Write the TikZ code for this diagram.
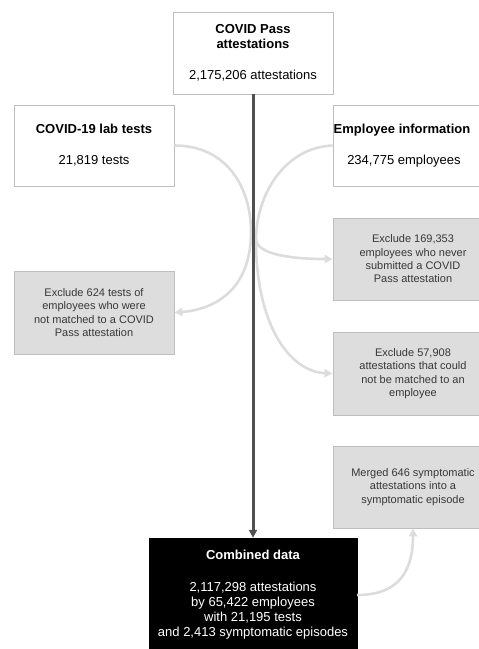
\documentclass[tikz,border=0pt]{standalone}
\usepackage{fontspec}
\setmainfont{Liberation Sans}
\usetikzlibrary{arrows.meta}
\definecolor{boxline}{RGB}{190,190,190}
\definecolor{boxgray}{RGB}{221,221,221}
\definecolor{curvegray}{RGB}{220,220,220}
\definecolor{mainline}{RGB}{80,80,80}
\definecolor{graytext}{RGB}{55,55,55}
\tikzset{
  whitebox/.style={draw=boxline, line width=0.9pt, fill=white, minimum width=160pt, align=center, inner sep=0pt,
    font=\fontsize{13}{15}\selectfont},
  graybox/.style={draw=boxline, line width=0.9pt, fill=boxgray, minimum width=160pt, align=center, inner sep=0pt,
    text=graytext, font=\fontsize{11}{13.3}\selectfont},
  blackbox/.style={draw=black, fill=black, text=white, minimum width=208pt, align=center, inner sep=0pt,
    font=\fontsize{13}{15.3}\selectfont},
  flow/.style={draw=curvegray, line width=2.6pt, -{Triangle[length=8pt,width=8pt]}},
  flowplain/.style={draw=curvegray, line width=2.6pt},
  mainflow/.style={draw=mainline, line width=3pt, -{Triangle[length=8pt,width=8pt]}}
}
\begin{document}
\begin{tikzpicture}[x=1pt,y=-1pt]
\useasboundingbox (0,0) rectangle (479,649);
\clip (0,0) rectangle (479,649);

\node[whitebox, minimum height=82pt] (pass) at (253,53) {\textbf{COVID Pass}\\\textbf{attestations}\\[16pt]2,175,206 attestations};
\node[whitebox, minimum height=81pt] (lab) at (94,145.5) {\textbf{COVID-19 lab tests}\\[16pt]21,819 tests};
\node[whitebox, minimum height=81pt] (emp) at (413,145.5) {\hspace*{-22pt}\textbf{Employee information}\\[16pt]\hspace*{-18pt}234,775 employees};
\node[graybox, minimum height=82pt] (exemp) at (413,259) {Exclude 169,353\\employees who never\\submitted a COVID\\Pass attestation};
\node[graybox, minimum height=83pt] (exlab) at (94,312.5) {Exclude 624 tests of\\employees who were\\not matched to a COVID\\Pass attestation};
\node[graybox, minimum height=83pt] (exatt) at (413,373.5) {Exclude 57,908\\attestations that could\\not be matched to an\\employee};
\node[graybox, minimum height=82pt] (merge) at (413,487) {Merged 646 symptomatic\\attestations into a\\symptomatic episode};
\node[blackbox, minimum height=114pt] (comb) at (253,595) {\textbf{Combined data}\\[16pt]2,117,298 attestations\\by 65,422 employees\\with 21,195 tests\\and 2,413 symptomatic episodes};

\coordinate (jl) at (251,232);
\coordinate (jr) at (256,240);

\draw[flowplain] (lab.east) .. controls +(52,0) and +(0,-45) .. (jl);
\draw[flow] (jl) .. controls +(0,58) and +(40,-3) .. (exlab.east);
\draw[flowplain] (emp.west) .. controls +(-48,2) and +(0,-45) .. (jr);
\draw[flow] (jr) .. controls +(2,14) and +(-43,0) .. (exemp.west);
\draw[flow] (jr) .. controls +(0,85) and +(-43,-2) .. (exatt.west);
\draw[flow] (comb.east) .. controls +(42,0) and +(0,42) .. (merge.south);

\draw[mainflow] (pass.south) -- (comb.north);
\end{tikzpicture}
\end{document}
